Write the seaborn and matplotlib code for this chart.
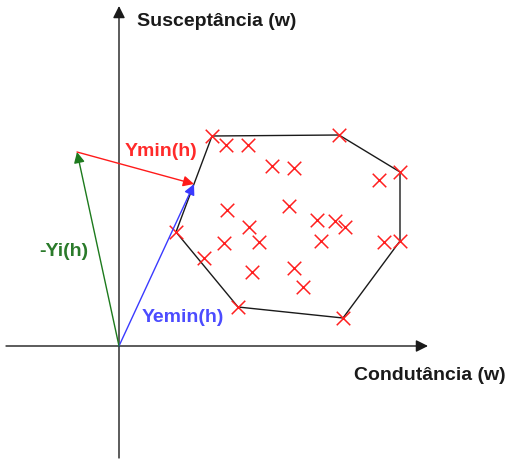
import matplotlib
matplotlib.use("Agg")
import matplotlib.pyplot as plt
import pandas as pd
import seaborn as sns

# pontos de admitância (condutância G, susceptância B)
G = [9.3, 10.7, 12.9, 22.0, 15.3, 17.5, 28.1, 26.0, 10.8, 17.0, 19.8, 21.6, 22.6,
     13.0, 5.7, 10.5, 14.0, 20.2, 26.5, 28.1, 8.5, 13.3, 17.5, 18.4, 11.9, 22.4]
B = [21.0, 20.1, 20.1, 21.1, 18.0, 17.8, 17.4, 16.6, 13.6, 14.0, 12.6, 12.5, 11.9,
     11.9, 11.4, 10.3, 10.4, 10.5, 10.4, 10.5, 8.8, 7.4, 7.8, 5.9, 3.9, 2.8]

# contorno (envoltória convexa)
hull_G = [9.3, 22.0, 28.1, 28.1, 22.4, 11.9, 5.7, 9.3]
hull_B = [21.0, 21.1, 17.4, 10.5, 2.8, 3.9, 11.4, 21.0]

# vetores
yemin = (7.5, 16.2)
yi_neg = (-4.2, 19.4)

# extensão dos eixos
x_axis = (-11.3, 30.9)
y_axis = (-11.2, 34.0)

df = pd.DataFrame({"G": G, "B": B})
hull = pd.DataFrame({"G": hull_G, "B": hull_B})

sns.set_theme(style="white")
plt.rcParams["font.family"] = ["Liberation Sans", "DejaVu Sans"]

fig = plt.figure(figsize=(5.08, 4.61), dpi=100)
ax = fig.add_axes([0, 0, 1, 1])

# eixos com setas
ax.annotate("", xy=(x_axis[1], 0), xytext=(x_axis[0], 0),
            arrowprops=dict(arrowstyle="-|>", color="#1a1a1a", lw=1.0,
                            mutation_scale=18, shrinkA=0, shrinkB=0))
ax.annotate("", xy=(0, y_axis[1]), xytext=(0, y_axis[0]),
            arrowprops=dict(arrowstyle="-|>", color="#1a1a1a", lw=1.0,
                            mutation_scale=18, shrinkA=0, shrinkB=0))

sns.lineplot(data=hull, x="G", y="B", sort=False, color="#1a1a1a", lw=1.0,
             estimator=None, ax=ax)

sns.scatterplot(data=df, x="G", y="B", marker="x", s=95, color="#ff2020",
                linewidth=1.1, ax=ax, zorder=3)

# vetores coloridos
ax.annotate("", xy=yemin, xytext=(0, 0),
            arrowprops=dict(arrowstyle="-|>", color="#3a3aff", lw=1.0,
                            mutation_scale=16, shrinkA=0, shrinkB=0))
ax.annotate("", xy=yi_neg, xytext=(0, 0),
            arrowprops=dict(arrowstyle="-|>", color="#1d7a1d", lw=1.0,
                            mutation_scale=16, shrinkA=0, shrinkB=0))
ax.annotate("", xy=yemin, xytext=yi_neg,
            arrowprops=dict(arrowstyle="-|>", color="#ff1a1a", lw=1.0,
                            mutation_scale=16, shrinkA=0, shrinkB=0))

txt = dict(fontsize=14, fontweight="bold", va="center", ha="left")
ax.text(1.8, 32.4, "Susceptância (w)", color="#1a1a1a", **txt)
ax.text(23.5, -2.9, "Condutância (w)", color="#1a1a1a", **txt)
ax.text(0.6, 19.4, "Ymin(h)", color="#ff2a2a", **txt)
ax.text(-8.0, 9.5, "-Yi(h)", color="#2a7a2a", **txt)
ax.text(2.3, 2.9, "Yemin(h)", color="#4c4cff", **txt)

ax.set_xlim(-11.9, 38.9)
ax.set_ylim(-11.5, 34.6)
ax.set_axis_off()

fig.savefig("out.png", dpi=100)
